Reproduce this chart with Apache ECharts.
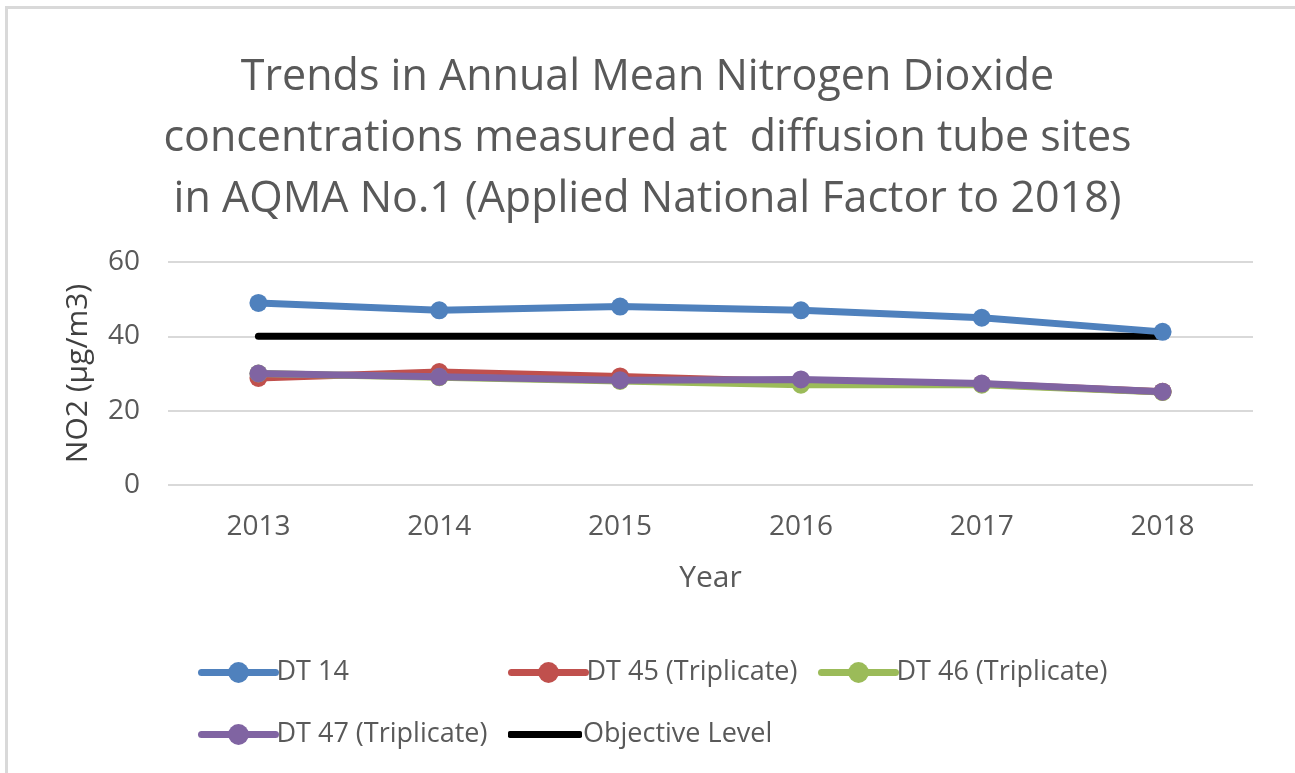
<!DOCTYPE html>
<html lang="en">
<head>
    <meta charset="UTF-8">
    <title>NO2 trends AQMA No.1</title>
    <script src="https://cdn.jsdelivr.net/npm/echarts@6/dist/echarts.min.js"></script>
    <style>
        html, body { margin: 0; padding: 0; background: #fff; }
        #main { width: 1295px; height: 773px; }
    </style>
</head>
<body>
    <div id="main"></div>
    <script>
        // data
        var years = ['2013', '2014', '2015', '2016', '2017', '2018'];
        var dt14 = [49, 47, 48, 47, 45, 41.2];
        var dt45 = [28.8, 30.4, 29.2, 27.8, 27.2, 25.1];
        var dt46 = [30, 29, 28, 27, 27, 25];
        var dt47 = [30, 29.1, 28.2, 28.4, 27.3, 25.1];
        var objective = [40, 40, 40, 40, 40, 40];
        var yTicks = [0, 20, 40, 60];

        var font = 'Open Sans, sans-serif';
        var grey = '#595959';

        function lineSeries(name, data, color, withMarker, z) {
            return {
                name: name,
                type: 'line',
                data: data,
                z: z,
                symbol: withMarker ? 'circle' : 'none',
                symbolSize: 18,
                showSymbol: withMarker,
                itemStyle: { color: color },
                lineStyle: { color: color, width: 7, cap: 'round', join: 'round' },
                animation: false
            };
        }

        function legendAt(name, left, top, plain) {
            var lg = {
                data: [name],
                left: left,
                top: top,
                itemWidth: 74,
                itemHeight: 26,
                itemGap: 0,
                lineStyle: { width: 7, cap: 'round' },
                textStyle: { fontFamily: font, fontSize: 27, color: grey, padding: [0, 0, 0, -4] }
            };
            if (plain) {
                // objective level has no marker, just a thick rounded bar
                lg.icon = 'roundRect';
                lg.itemHeight = 7;
            }
            return lg;
        }

        var myChart = echarts.init(document.getElementById('main'));
        var option = {
            backgroundColor: '#fff',
            title: {
                text: 'Trends in Annual Mean Nitrogen Dioxide\nconcentrations measured at  diffusion tube sites\nin AQMA No.1 (Applied National Factor to 2018)',
                left: 'center',
                top: 42,
                textStyle: { fontFamily: font, fontSize: 43, fontWeight: 'normal', color: grey, lineHeight: 61 }
            },
            graphic: [{
                type: 'rect',
                shape: { x: 6.5, y: 7.5, width: 1300, height: 780 },
                style: { fill: 'none', stroke: '#d9d9d9', lineWidth: 3 },
                silent: true
            }],
            legend: [
                legendAt('DT 14', 193, 654),
                legendAt('DT 45 (Triplicate)', 503, 654),
                legendAt('DT 46 (Triplicate)', 813, 654),
                legendAt('DT 47 (Triplicate)', 193, 716),
                legendAt('Objective Level', 503, 716, true)
            ],
            grid: { left: 168, right: 42, top: 262, bottom: 288, containLabel: false },
            xAxis: {
                type: 'category',
                data: years,
                boundaryGap: true,
                name: 'Year',
                nameLocation: 'middle',
                nameGap: 78,
                nameTextStyle: { fontFamily: font, fontSize: 30, color: grey },
                axisLine: { show: false },
                axisTick: { show: false },
                axisLabel: { fontFamily: font, fontSize: 28, color: grey, margin: 28 }
            },
            yAxis: {
                type: 'value',
                min: yTicks[0],
                max: yTicks[yTicks.length - 1],
                interval: yTicks[1] - yTicks[0],
                name: 'NO2 (µg/m3)',
                nameLocation: 'middle',
                nameRotate: 90,
                nameGap: 75,
                nameTextStyle: { fontFamily: font, fontSize: 30, color: '#404040' },
                axisLine: { show: false },
                axisTick: { show: false },
                axisLabel: { fontFamily: font, fontSize: 28, color: grey, margin: 28 },
                splitLine: { lineStyle: { color: '#d9d9d9', width: 2 } }
            },
            series: [
                lineSeries('DT 14', dt14, '#4f81bd', true, 5),
                lineSeries('DT 45 (Triplicate)', dt45, '#c0504d', true, 2),
                lineSeries('DT 46 (Triplicate)', dt46, '#9bbb59', true, 3),
                lineSeries('DT 47 (Triplicate)', dt47, '#8064a2', true, 4),
                lineSeries('Objective Level', objective, '#000000', false, 1)
            ]
        };
        myChart.setOption(option);
    </script>
</body>
</html>
